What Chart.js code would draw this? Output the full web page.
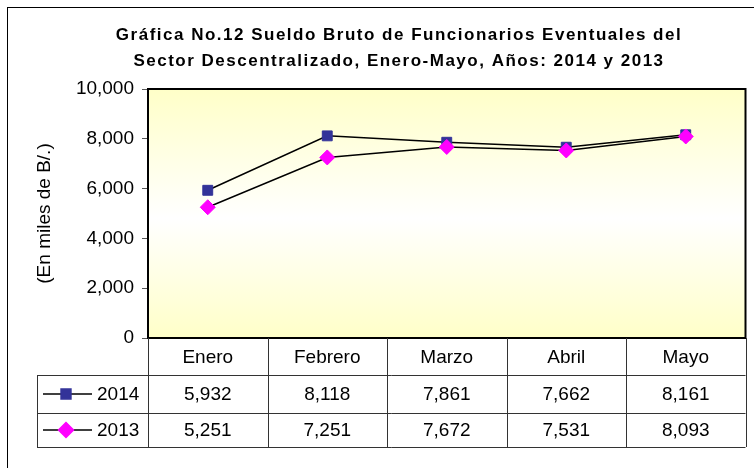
<!DOCTYPE html>
<html>
<head>
<meta charset="utf-8">
<script src="https://cdn.jsdelivr.net/npm/chart.js@4"></script>
<style>
  html, body { margin: 0; padding: 0; background: #fff; }
  #wrap { width: 754px; height: 468px; }
</style>
</head>
<body>
<div id="wrap"><canvas id="myChart" width="754" height="468"></canvas></div>
<script>
const meses = ['Enero', 'Febrero', 'Marzo', 'Abril', 'Mayo'];
const datos2014 = [5932, 8118, 7861, 7662, 8161];
const datos2013 = [5251, 7251, 7672, 7531, 8093];
const tituloLineas = ['Gráfica No.12 Sueldo Bruto de Funcionarios Eventuales del',
                      'Sector Descentralizado, Enero-Mayo, Años: 2014 y 2013'];
const tituloEje = '(En miles de B/.)';

const fuente = '"Liberation Sans", Arial, sans-serif';
const fmt = v => Number(v).toLocaleString('en-US');

// fondo degradado, marco y titulo (con espaciado de letras como en Excel)
const fondoPlot = {
    id: 'fondoPlot',
    beforeDraw(chart) {
        const {ctx, chartArea: a} = chart;
        ctx.save();
        ctx.strokeStyle = '#000';
        ctx.lineWidth = 1;
        ctx.strokeRect(7.5, 7.5, 800, 500);
        const g = ctx.createLinearGradient(0, a.top, 0, a.bottom);
        g.addColorStop(0, '#FFFFC8');
        g.addColorStop(0.52, '#FFFFFF');
        g.addColorStop(1, '#FFFFC8');
        ctx.fillStyle = g;
        ctx.fillRect(a.left, a.top, a.right - a.left, a.bottom - a.top);

        ctx.fillStyle = '#000';
        ctx.font = 'bold 17px ' + fuente;
        ctx.letterSpacing = '1.5px';
        ctx.textAlign = 'center';
        ctx.textBaseline = 'middle';
        tituloLineas.forEach((t, i) => ctx.fillText(t, 399, 35.5 + i * 25.5));
        ctx.restore();
    },
    afterDatasetsDraw(chart) {
        const {ctx, chartArea: a} = chart;
        ctx.save();
        ctx.strokeStyle = '#000';
        ctx.lineWidth = 2;
        ctx.strokeRect(a.left, a.top, a.right - a.left, a.bottom - a.top);
        ctx.restore();
    }
};

// tabla de datos bajo el eje x
const tablaDatos = {
    id: 'tablaDatos',
    afterDraw(chart) {
        const {ctx, chartArea: a} = chart;
        const x = chart.scales.x;
        const colW = (a.right - a.left) / meses.length;
        const tablaIzq = 37;
        const y0 = a.bottom, y1 = a.bottom + 37, y2 = y1 + 38, y3 = y2 + 34;
        ctx.save();
        ctx.strokeStyle = '#333';
        ctx.lineWidth = 1;
        ctx.beginPath();
        [y1, y2, y3].forEach(y => {
            ctx.moveTo(tablaIzq, Math.round(y) + 0.5);
            ctx.lineTo(a.right, Math.round(y) + 0.5);
        });
        ctx.moveTo(tablaIzq + 0.5, y1);
        ctx.lineTo(tablaIzq + 0.5, y3);
        for (let i = 0; i <= meses.length; i++) {
            const xx = Math.round(a.left + i * colW) + 0.5;
            ctx.moveTo(xx, y0);
            ctx.lineTo(xx, y3);
        }
        ctx.stroke();

        ctx.fillStyle = '#000';
        ctx.font = '19px ' + fuente;
        ctx.textBaseline = 'middle';
        const filas = [[y1, y2], [y2, y3]];
        chart.data.datasets.slice().sort((p, q) => p.fila - q.fila).forEach((ds, r) => {
            const yc = (filas[r][0] + filas[r][1]) / 2;
            ctx.textAlign = 'center';
            ds.data.forEach((v, i) => {
                ctx.fillText(fmt(v), x.getPixelForValue(i), yc + 1);
            });
            // clave de leyenda
            ctx.save();
            ctx.strokeStyle = '#000';
            ctx.lineWidth = 1.5;
            ctx.beginPath();
            ctx.moveTo(43, yc);
            ctx.lineTo(92, yc);
            ctx.stroke();
            ctx.fillStyle = ds.pointBackgroundColor;
            ctx.strokeStyle = ds.pointBorderColor;
            Chart.helpers.drawPoint(ctx, {pointStyle: ds.pointStyle, radius: ds.pointRadius, borderWidth: 1, rotation: 0}, 66, yc);
            ctx.restore();
            ctx.textAlign = 'left';
            ctx.fillText(ds.label, 97, yc + 1);
        });
        ctx.restore();
    }
};

const ctx = document.getElementById('myChart').getContext('2d');
const chart = new Chart(ctx, {
    type: 'line',
    data: {
        labels: meses,
        datasets: [{
            label: '2014',
            data: datos2014,
            fila: 0,
            order: 1,
            borderColor: '#000',
            borderWidth: 1.5,
            pointStyle: 'rect',
            pointRadius: 7,
            pointBackgroundColor: '#333399',
            pointBorderColor: '#333399',
            pointBorderWidth: 1
        }, {
            label: '2013',
            data: datos2013,
            fila: 1,
            order: 0,
            borderColor: '#000',
            borderWidth: 1.5,
            pointStyle: 'rectRot',
            pointRadius: 7.5,
            pointBackgroundColor: '#FF00FF',
            pointBorderColor: '#FF00FF',
            pointBorderWidth: 1
        }]
    },
    options: {
        responsive: false,
        animation: false,
        layout: {padding: {left: 30, right: 8, top: 89, bottom: 0}},
        plugins: {
            legend: {display: false},
            tooltip: {enabled: false},
            title: {display: false}
        },
        scales: {
            x: {
                offset: true,
                grid: {display: false, drawTicks: false},
                border: {display: false},
                ticks: {color: '#000', font: {family: fuente, size: 19}, padding: 8},
                afterFit: s => { s.height = 130; }
            },
            y: {
                min: 0,
                max: 10000,
                ticks: {stepSize: 2000, color: '#000', font: {family: fuente, size: 19}, padding: 8,
                        callback: v => fmt(v)},
                grid: {drawOnChartArea: false, tickLength: 6, color: '#555'},
                border: {display: false},
                title: {display: true, text: tituloEje, color: '#000',
                        font: {family: fuente, size: 19}, padding: {top: 3, bottom: 0}},
                afterFit: s => { s.width = 118; }
            }
        }
    },
    plugins: [fondoPlot, tablaDatos]
});
</script>
</body>
</html>
